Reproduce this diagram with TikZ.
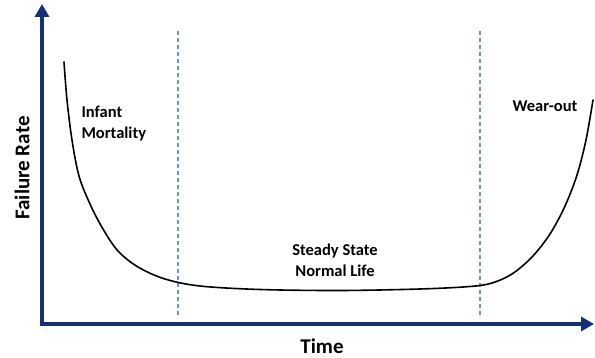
\documentclass[tikz,border=0pt]{standalone}
\usepackage{fontspec}
\setmainfont{Carlito}
\usetikzlibrary{arrows.meta}
\definecolor{axisblue}{RGB}{20,48,120}
\definecolor{phaseblue}{RGB}{100,150,210}
\tikzset{
  axis/.style={axisblue,line width=4.5pt,-{Triangle[length=13pt,width=14pt]}},
  phase/.style={phaseblue,line width=1.2pt,dash pattern=on 4pt off 3pt},
  label/.style={font=\bfseries\fontsize{16.5}{21}\selectfont},
  title/.style={font=\bfseries\fontsize{21}{26}\selectfont}
}
\begin{document}
\begin{tikzpicture}[x=1pt,y=-1pt]
\useasboundingbox (0,0) rectangle (595,358);
\coordinate (origin) at (42,324);
\coordinate (ytop) at (42,4);
\coordinate (xend) at (594,324);
\draw[axis] ([yshift=-2.25pt]origin) -- (ytop);
\draw[axis] ([xshift=-2.25pt]origin) -- (xend);
\draw[phase] (178,31) -- (178,318);
\draw[phase] (480,31) -- (480,318);
\draw[line width=1.6pt,line cap=round] plot[smooth,tension=0.55] coordinates {
  (64,62) (67,100) (72,140) (79,176) (90,204) (103,229) (118,251) (138,267)
  (165,279) (200,286) (260,289.5) (340,290.5) (420,289) (470,286.5) (492,283)
  (512,274) (532,257) (550,234) (565,206) (577,175) (586,140) (593,100)};
\node[label,align=left,anchor=west] (infant) at (78,124) {Infant\\Mortality};
\node[label] (wear) at (545,106) {Wear-out};
\node[label,align=center] (steady) at (335,260) {Steady State\\Normal Life};
\node[title] (time) at (322,346) {Time};
\node[title,rotate=90] (rate) at (22,168) {Failure Rate};
\end{tikzpicture}
\end{document}
